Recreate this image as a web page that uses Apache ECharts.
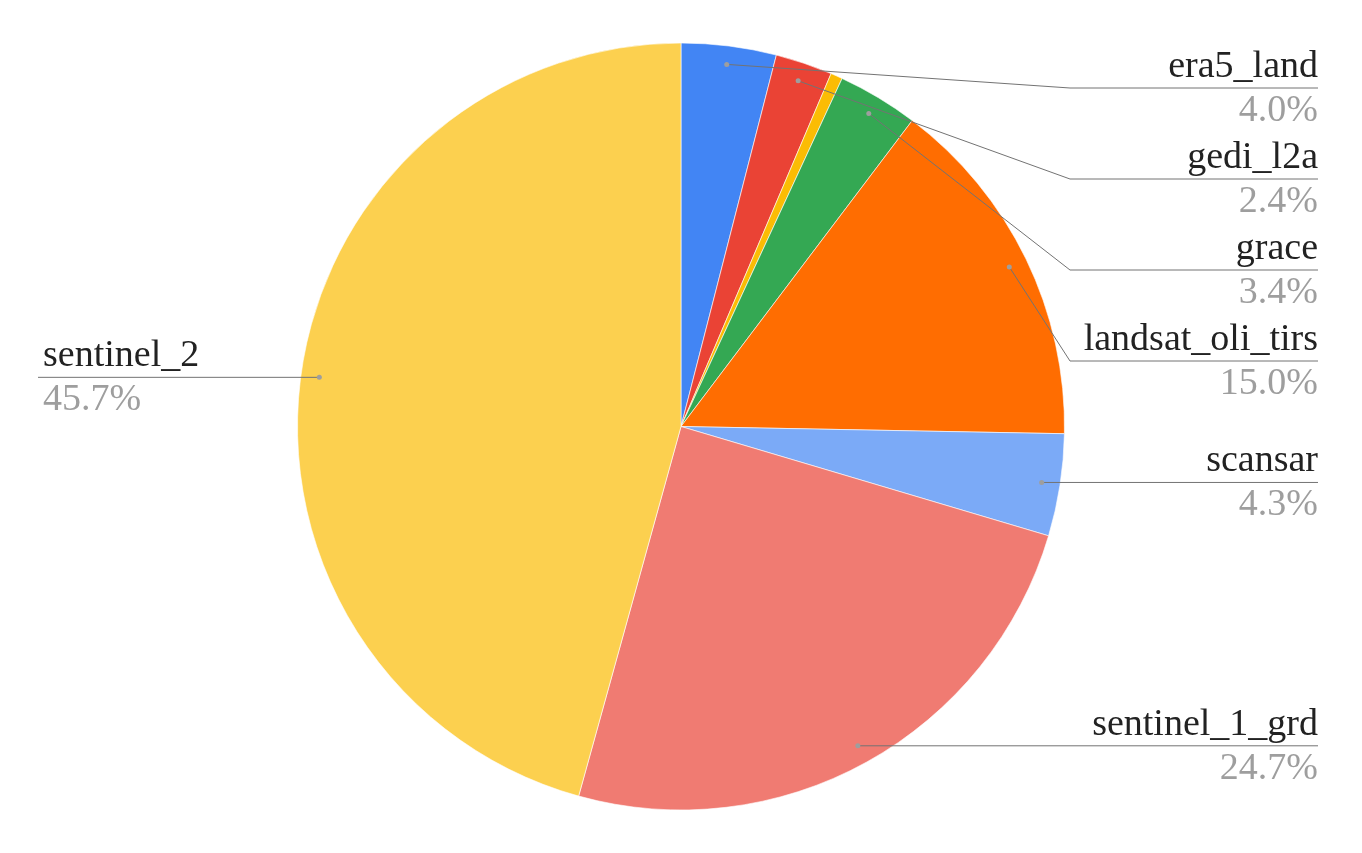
<!DOCTYPE html>
<html><head><meta charset="utf-8">
<script src="https://cdn.jsdelivr.net/npm/echarts@6/dist/echarts.min.js"></script>
<style>html,body{margin:0;padding:0;background:#fff}#c{width:1362px;height:853px}</style>
</head><body><div id="c"></div>
<script>
const categories = ['era5_land','gedi_l2a','other','grace','landsat_oli_tirs','scansar','sentinel_1_grd','sentinel_2'];
const shares = [4.0, 2.4, 0.5, 3.4, 15.0, 4.3, 24.7, 45.7];
const colors = ['#4285f4','#ea4335','#fbbc04','#34a853','#ff6d01','#7baaf7','#f07b72','#fcd04f'];
const hiddenLabels = ['other'];

const CX = 681, CY = 426.5, R = 383.5, ANCHOR_R = 365;
const RIGHT_X = 1318, LEFT_X = 43, LINE_RIGHT = 1318, LINE_LEFT = 38;
const ELBOW_X = 1070, ELBOW_LEFT = 292, LABEL_STEP = 91, TOP_LIMIT = 88;
const NAME_LH = 42, PCT_LH = 46, FS = 38;
const FONT = "'Liberation Serif','Times New Roman',serif";

const total = shares.reduce((a, b) => a + b, 0);
let acc = 0;
const layout = shares.map((v, i) => {
  const mid = (acc + v / 2) / total * 2 * Math.PI; acc += v;
  return { i, ax: CX + ANCHOR_R * Math.sin(mid), ay: CY - ANCHOR_R * Math.cos(mid), right: Math.sin(mid) >= 0,
           hidden: hiddenLabels.includes(categories[i]) };
});
function stack(list) {
  let prev = -Infinity;
  list.sort((a, b) => a.ay - b.ay).forEach(l => { l.ly = Math.max(l.ay, prev + LABEL_STEP, TOP_LIMIT); prev = l.ly; });
}
stack(layout.filter(l => l.right && !l.hidden));
stack(layout.filter(l => !l.right && !l.hidden));
layout.forEach(l => {
  if (l.hidden) return;
  l.pts = l.right
    ? [[l.ax, l.ay], [Math.max(ELBOW_X, l.ax), l.ly], [LINE_RIGHT, l.ly]]
    : [[l.ax, l.ay], [Math.min(ELBOW_LEFT, l.ax), l.ly], [LINE_LEFT, l.ly]];
});

const data = categories.map((n, i) => {
  const d = { name: n, value: shares[i], itemStyle: { color: colors[i] } };
  if (layout[i].hidden) { d.label = { show: false }; }
  return d;
});

const shown = layout.filter(l => !l.hidden);
const chart = echarts.init(document.getElementById('c'), null, { renderer: 'canvas' });
chart.setOption({
  animation: false,
  backgroundColor: '#fff',
  series: [{
    type: 'pie',
    center: [CX, CY],
    radius: [0, R],
    startAngle: 90,
    clockwise: true,
    silent: true,
    data: data,
    itemStyle: { borderColor: '#fff', borderWidth: 0.6 },
    label: {
      show: true,
      formatter: p => '{n|' + p.name + '}\n{p|' + p.value.toFixed(1) + '%}',
      rich: {
        n: { fontFamily: FONT, fontSize: FS, color: '#222', lineHeight: NAME_LH },
        p: { fontFamily: FONT, fontSize: FS, color: '#9e9e9e', lineHeight: PCT_LH }
      }
    },
    labelLine: { show: false },
    labelLayout: function (params) {
      const l = layout[params.dataIndex];
      if (l.hidden) return {};
      return { x: l.right ? RIGHT_X : LEFT_X, y: l.ly - NAME_LH, align: l.right ? 'right' : 'left', verticalAlign: 'top' };
    }
  }],
  graphic: shown.map(l => ({
    type: 'polyline', z: 100, silent: true,
    shape: { points: l.pts },
    style: { stroke: '#737373', lineWidth: 1, fill: null }
  })).concat(shown.map(l => ({
    type: 'circle', z: 101, silent: true,
    shape: { cx: l.ax, cy: l.ay, r: 2.5 },
    style: { fill: '#9e9e9e' }
  })))
});
</script></body></html>
